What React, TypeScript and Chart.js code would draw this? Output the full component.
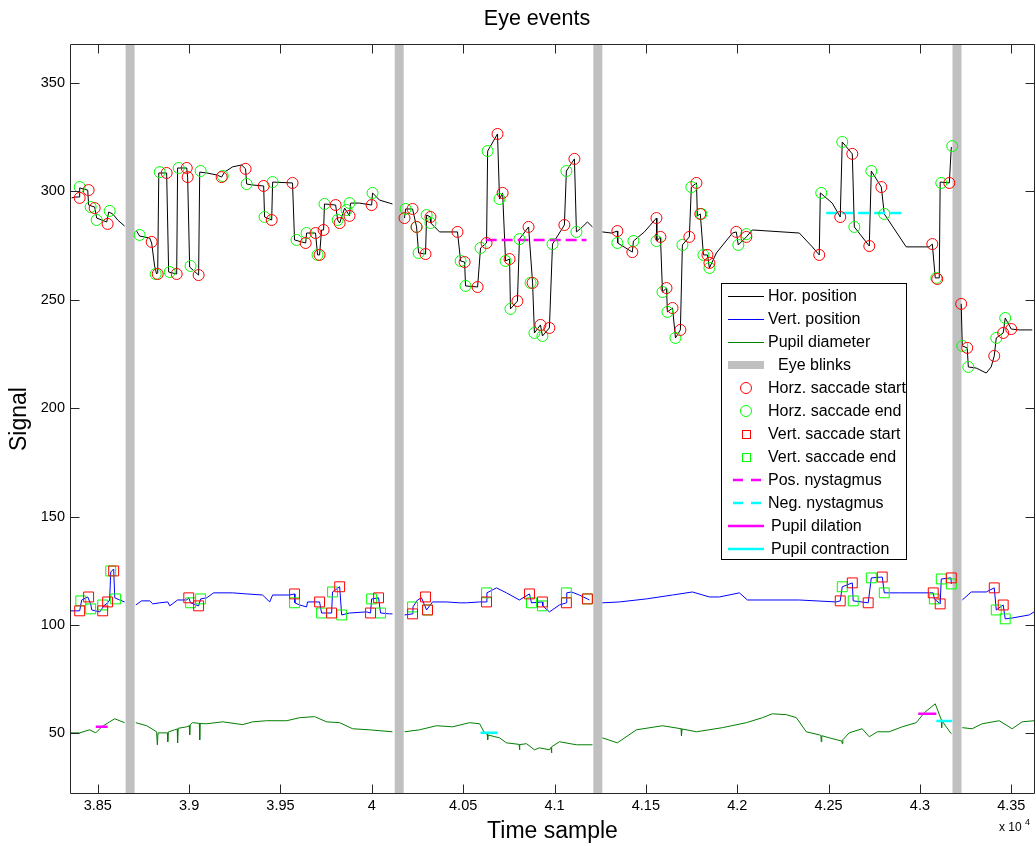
import React, { useEffect, useRef } from "react";
import { Chart, registerables } from "chart.js";
Chart.register(...registerables);

type P = [number, number];

const FONT = '"Liberation Sans", Arial, Helvetica, sans-serif';

// ---- axes ----
const xMin = 38348;
const xMax = 43630;
const yMin = 22;
const yMax = 368;
const xTicks = [38500, 39000, 39500, 40000, 40500, 41000, 41500, 42000, 42500, 43000, 43500];
const yTicks = [50, 100, 150, 200, 250, 300, 350];

// ---- eye blinks (centre sample) ----
const blinkCenters = [38677, 40150, 41237, 43203];

// ---- horizontal position ----
const horSeg1: P[] = [[38357,297.0],[38374,297.4],[38398,297.4],[38401,301.6],[38445,300.6],[38450,293.7],[38483,292.8],[38494,287.7],[38549,285.9],[38560,290.5],[38582,289.6],[38609,286.8],[38647,284.0]];
const horSeg2: P[] = [[38713,281.7],[38729,279.4],[38784,278.5],[38795,276.2],[38811,265.6],[38822,261.9],[38828,262.4],[38834,308.5],[38877,308.5],[38888,262.8],[38932,261.9],[38937,310.8],[38987,310.8],[38992,306.6],[39003,265.1],[39052,261.4],[39058,308.9],[39096,308.5],[39151,307.6],[39178,306.6],[39194,308.9],[39238,311.3],[39287,312.2],[39309,310.4],[39315,303.4],[39342,303.0],[39408,302.5],[39413,288.2],[39452,286.8],[39457,304.3],[39566,303.9],[39577,277.6],[39638,276.2],[39643,280.8],[39692,280.8],[39703,270.7],[39714,270.7],[39725,282.2],[39736,282.2],[39741,294.2],[39802,293.7],[39813,286.8],[39824,285.4],[39851,292.3],[39878,288.7],[39884,294.6],[39933,294.6],[39999,293.7],[40004,299.3],[40042,296.0],[40097,294.6],[40113,294.2]];
const horSeg3: P[] = [[40179,287.7],[40185,291.9],[40223,291.9],[40245,283.6],[40256,271.6],[40294,271.1],[40300,289.1],[40321,288.2],[40323,285.4],[40371,281.3],[40469,281.3],[40486,267.9],[40508,267.4],[40513,256.4],[40579,255.9],[40595,273.9],[40628,276.2],[40634,318.6],[40688,326.5],[40699,296.5],[40716,299.3],[40732,267.9],[40754,268.8],[40759,245.8],[40797,249.4],[40808,278.0],[40858,283.6],[40880,257.8],[40890,234.7],[40923,238.4],[40934,233.3],[40972,237.0],[40989,275.7],[41054,284.5],[41065,309.4],[41109,315.0],[41120,281.3],[41153,283.6],[41180,285.9],[41208,283.6]];
const horSeg4: P[] = [[41262,281.3],[41312,280.8],[41344,281.7],[41346,276.2],[41426,272.0],[41432,277.1],[41492,281.3],[41558,287.7],[41560,277.1],[41580,279.0],[41591,253.6],[41613,255.4],[41618,244.4],[41646,246.2],[41662,232.4],[41689,236.1],[41700,275.3],[41738,279.0],[41749,302.0],[41777,303.9],[41782,288.7],[41798,289.6],[41815,270.7],[41837,270.7],[41848,264.7],[41886,271.6],[41974,280.8],[41995,281.3],[42006,275.3],[42050,279.0],[42083,282.2],[42340,280.8],[42411,274.4],[42449,270.7],[42455,299.3],[42520,294.6],[42564,288.2],[42575,322.8],[42630,317.3],[42641,283.6],[42723,274.8],[42734,309.4],[42789,302.0],[42805,289.6],[42925,274.4],[43051,274.4],[43068,275.7],[43084,260.1],[43106,260.1],[43111,304.3],[43161,303.9],[43172,320.5]];
const horSeg5: P[] = [[43226,248.1],[43232,228.7],[43259,227.8],[43265,219.0],[43308,218.5],[43363,216.2],[43390,219.0],[43407,224.1],[43418,232.4],[43456,234.7],[43467,241.6],[43500,236.5],[43543,236.1],[43615,236.1]];

// ---- vertical position ----
const verSeg1: P[] = [[38352,106.5],[38401,106.5],[38412,111.5],[38445,112.9],[38461,109.7],[38467,106.9],[38511,106.0],[38533,108.8],[38554,110.2],[38565,111.5],[38571,124.4],[38587,125.8],[38593,112.5],[38620,111.5],[38647,110.6]];
const verSeg2: P[] = [[38708,109.2],[38740,111.1],[38784,111.1],[38801,109.7],[38839,110.2],[38883,110.6],[38894,108.8],[38937,111.5],[38987,111.5],[38998,112.5],[39008,110.2],[39052,108.8],[39063,112.0],[39096,112.5],[39134,114.8],[39238,114.8],[39315,114.3],[39402,113.8],[39441,110.6],[39457,113.8],[39550,113.8],[39577,114.3],[39579,110.2],[39605,109.2],[39643,108.3],[39648,110.6],[39714,110.6],[39725,105.5],[39780,105.5],[39785,115.2],[39824,117.6],[39835,104.6],[39878,105.5],[39971,106.0],[39993,105.5],[39999,112.0],[40037,112.5],[40048,105.5],[40097,105.1],[40113,105.1]];
const verSeg3: P[] = [[40179,104.6],[40223,105.1],[40225,108.3],[40250,111.5],[40272,112.5],[40300,106.9],[40332,110.6],[40409,110.6],[40480,110.2],[40518,110.2],[40590,110.6],[40628,110.6],[40630,114.8],[40682,117.1],[40737,114.8],[40808,111.5],[40863,114.3],[40874,110.2],[40934,110.6],[40936,108.8],[40972,106.0],[41027,109.2],[41065,110.2],[41067,114.8],[41093,115.2],[41136,113.8],[41180,112.0],[41191,111.5]];
const verSeg4: P[] = [[41262,110.2],[41355,110.6],[41503,112.0],[41646,113.8],[41755,115.2],[41848,112.9],[41903,112.9],[42012,114.8],[42056,111.5],[42340,111.5],[42542,110.6],[42564,111.1],[42575,117.6],[42630,119.4],[42635,111.1],[42717,110.2],[42734,121.7],[42794,122.1],[42805,114.8],[42887,114.8],[43051,114.8],[43073,114.8],[43079,112.0],[43111,109.7],[43117,121.2],[43170,121.7],[43172,118.9]];
const verSeg5: P[] = [[43232,111.5],[43281,115.2],[43363,115.2],[43407,117.1],[43418,106.9],[43456,109.2],[43467,102.8],[43505,103.2],[43598,104.6],[43625,106.0]];

// ---- pupil diameter ----
const pupSeg1: P[] = [[38352,50.2],[38401,50.2],[38456,51.6],[38489,50.2],[38522,53.0],[38565,55.3],[38593,56.7],[38647,54.9]];
const pupSeg2: P[] = [[38708,54.9],[38768,53.5],[38822,50.7],[38826,44.7],[38830,50.2],[38850,50.2],[38881,50.2],[38883,46.1],[38886,50.6],[38921,51.6],[38935,52.0],[38937,45.6],[38940,52.3],[38987,53.0],[39001,53.5],[39003,49.3],[39006,54.0],[39019,54.9],[39056,54.6],[39058,47.0],[39060,54.5],[39096,54.4],[39184,55.3],[39293,54.0],[39348,55.3],[39424,55.8],[39534,55.8],[39605,57.2],[39687,57.7],[39752,55.3],[39824,54.9],[39895,52.1],[39988,51.6],[40113,50.7]];
const pupSeg3: P[] = [[40179,50.7],[40261,51.6],[40354,53.5],[40442,53.0],[40535,54.9],[40590,54.4],[40617,50.2],[40632,49.5],[40634,47.0],[40637,49.2],[40699,47.9],[40737,45.6],[40806,44.9],[40808,42.4],[40811,44.8],[40847,45.2],[40890,42.4],[40918,43.3],[40972,42.4],[40981,43.5],[40983,41.0],[40986,43.8],[41027,46.1],[41120,44.7],[41208,44.7]];
const pupSeg4: P[] = [[41262,47.9],[41344,45.6],[41448,51.6],[41591,53.5],[41693,52.1],[41695,48.8],[41698,52.0],[41777,50.7],[41919,52.6],[42050,54.9],[42138,57.2],[42192,59.0],[42269,58.6],[42324,57.2],[42378,50.7],[42449,49.3],[42458,49.0],[42460,46.1],[42463,48.9],[42504,47.9],[42569,46.5],[42573,46.3],[42575,45.2],[42578,47.0],[42613,50.2],[42684,52.1],[42723,48.4],[42767,50.7],[42832,50.7],[42903,53.0],[42980,54.9],[43024,59.5],[43084,63.6],[43117,56.3],[43119,52.6],[43121,55.8],[43144,53.0],[43172,49.8]];
const pupSeg5: P[] = [[43232,52.6],[43286,52.1],[43341,54.4],[43434,55.8],[43505,52.1],[43560,55.3],[43625,55.8]];

// ---- saccade markers ----
const horSacStart: P[] = [[38401,297.0],[38450,300.6],[38483,292.3],[38554,285.0],[38795,276.7],[38828,261.9],[38877,308.5],[38932,261.9],[38987,310.8],[38992,306.6],[39052,261.4],[39178,306.6],[39309,310.4],[39408,302.5],[39452,286.8],[39566,303.9],[39638,276.2],[39692,280.8],[39714,270.7],[39736,282.2],[39802,293.7],[39824,285.4],[39878,288.7],[39999,293.7],[40223,291.9],[40179,287.7],[40245,283.6],[40294,271.1],[40321,288.2],[40469,281.3],[40508,267.4],[40579,255.9],[40628,276.2],[40688,326.5],[40716,299.3],[40754,268.8],[40797,249.4],[40858,283.6],[40880,257.8],[40923,238.4],[40972,237.0],[41054,284.5],[41109,315.0],[41344,281.7],[41426,272.0],[41558,287.7],[41580,279.0],[41613,255.4],[41646,246.2],[41689,236.1],[41738,279.0],[41777,303.9],[41798,289.6],[41837,270.7],[41848,267.0],[41995,281.3],[42050,279.0],[42449,270.7],[42564,288.2],[42630,317.3],[42723,274.8],[42789,302.0],[43068,275.7],[43095,259.6],[43161,303.9],[43226,248.1],[43259,227.8],[43407,224.1],[43456,234.7],[43500,236.5]];
const horSacEnd: P[] = [[38401,302.0],[38461,292.8],[38494,286.8],[38565,291.0],[38729,279.9],[38817,261.9],[38839,308.9],[38894,262.8],[38943,310.8],[39008,265.6],[39063,309.4],[39184,307.1],[39315,303.4],[39413,288.2],[39457,304.3],[39588,277.6],[39643,280.8],[39703,270.7],[39741,294.2],[39813,286.8],[39878,294.6],[39862,291.4],[40004,299.3],[40185,291.9],[40245,283.6],[40256,271.6],[40300,289.1],[40321,285.4],[40486,267.9],[40513,256.4],[40595,273.9],[40634,318.6],[40699,296.5],[40732,267.9],[40759,245.8],[40808,278.0],[40869,257.8],[40890,234.7],[40934,233.3],[40989,275.7],[41065,309.4],[41120,281.3],[41344,276.2],[41432,277.1],[41558,277.1],[41591,253.6],[41618,244.4],[41662,232.4],[41700,275.3],[41749,302.0],[41804,289.6],[41815,270.7],[41848,264.7],[42006,275.3],[42050,280.3],[42460,299.3],[42575,322.8],[42641,283.6],[42734,309.4],[42805,289.6],[43090,260.1],[43117,303.9],[43177,320.9],[43232,228.7],[43265,219.0],[43418,232.4],[43467,241.6]];
const verSacStart: P[] = [[38401,106.5],[38450,112.9],[38527,106.5],[38554,110.6],[38587,124.9],[38998,112.5],[39052,108.8],[39577,114.3],[39714,110.6],[39780,105.5],[39824,117.6],[39993,105.5],[40037,112.5],[40223,105.1],[40294,112.9],[40305,106.9],[40628,110.6],[40863,114.3],[40934,110.6],[41065,110.2],[41180,112.0],[42564,111.1],[42630,119.4],[42717,110.2],[42794,122.1],[43073,114.8],[43111,109.7],[43172,121.7],[43407,117.1],[43456,109.2]];
const verSacEnd: P[] = [[38407,111.1],[38461,107.4],[38527,109.2],[38571,124.9],[38598,112.0],[39008,110.2],[39063,112.0],[39577,110.2],[39725,105.5],[39785,115.2],[39835,104.6],[39999,112.0],[40048,105.5],[40223,108.3],[40305,106.9],[40628,114.8],[40874,110.2],[40934,108.8],[41065,114.8],[41180,112.0],[42575,117.6],[42635,111.1],[42734,121.7],[42805,114.8],[43079,112.0],[43117,121.2],[43172,118.9],[43418,106.9],[43467,102.8]];

// ---- nystagmus & pupil events ----
const posNystagmus: P[] = [[40623,277.6],[41175,277.6]];
const negNystagmus: P[] = [[42487,290.0],[42925,290.0]];
const pupilDilation: P[][] = [[[38489,53.0],[38554,53.0]],[[42991,59.0],[43090,59.0]]];
const pupilContraction: P[][] = [[[40595,50.2],[40688,50.2]],[[43090,55.7],[43177,55.7]]];

type Pt = { x: number; y: number | null };
const pts = (s: P[]): Pt[] => s.map(([x, y]) => ({ x, y }));
const joinSegs = (segs: P[][]): Pt[] => {
  const out: Pt[] = [];
  segs.forEach((s, i) => {
    if (i > 0) {
      const prev = segs[i - 1];
      out.push({ x: (prev[prev.length - 1][0] + s[0][0]) / 2, y: null });
    }
    out.push(...pts(s));
  });
  return out;
};

const legendItems = [
  { label: "Hor. position", kind: "line", color: "#000000" },
  { label: "Vert. position", kind: "line", color: "#0000ff" },
  { label: "Pupil diameter", kind: "line", color: "#007f00" },
  { label: "Eye blinks", kind: "bar", color: "#c0c0c0" },
  { label: "Horz. saccade start", kind: "circle", color: "#ff0000" },
  { label: "Horz. saccade end", kind: "circle", color: "#00ff00" },
  { label: "Vert. saccade start", kind: "square", color: "#ff0000" },
  { label: "Vert. saccade end", kind: "square", color: "#00ff00" },
  { label: "Pos. nystagmus", kind: "dash", color: "#ff00ff" },
  { label: "Neg. nystagmus", kind: "dash", color: "#00ffff" },
  { label: "Pupil dilation", kind: "thick", color: "#ff00ff" },
  { label: "Pupil contraction", kind: "thick", color: "#00ffff" },
];

// plot box edges in the figure (MATLAB axes position)
const AX_RIGHT = 1035;

const decoPlugin = {
  id: "deco",
  afterLayout(chart: any) {
    const a = chart.chartArea;
    a.right = AX_RIGHT;
    a.width = a.right - a.left;
    const x = chart.scales.x;
    x.right = AX_RIGHT;
    x.width = x.right - x.left;
    x.configure();
  },
  afterDatasetsDraw(chart: any) {
    const { ctx, chartArea: a, scales } = chart;
    const L = Math.round(a.left) + 0.5;
    const R = Math.round(a.right) - 0.5;
    const T = Math.round(a.top) + 0.5;
    const B = Math.round(a.bottom) - 0.5;
    ctx.save();
    ctx.strokeStyle = "#262626";
    ctx.lineWidth = 1;
    ctx.beginPath();
    ctx.rect(L, T, R - L, B - T);
    const tl = 9;
    xTicks.forEach((v) => {
      const x = Math.round(scales.x.getPixelForValue(v)) + 0.5;
      ctx.moveTo(x, B); ctx.lineTo(x, B - tl);
      ctx.moveTo(x, T); ctx.lineTo(x, T + tl);
    });
    yTicks.forEach((v) => {
      const y = Math.round(scales.y.getPixelForValue(v)) + 0.5;
      ctx.moveTo(L, y); ctx.lineTo(L + tl, y);
      ctx.moveTo(R, y); ctx.lineTo(R - tl, y);
    });
    ctx.stroke();
    ctx.restore();
  },
  afterDraw(chart: any) {
    const { ctx } = chart;
    ctx.save();
    // title
    ctx.fillStyle = "#000";
    ctx.font = `21.5px ${FONT}`;
    ctx.textAlign = "center";
    ctx.textBaseline = "middle";
    ctx.fillText("Eye events", 537, 19);
    // x 10^4
    ctx.textAlign = "left";
    ctx.textBaseline = "alphabetic";
    ctx.font = `12px ${FONT}`;
    ctx.fillText("x 10", 999, 831);
    ctx.font = `9px ${FONT}`;
    ctx.fillText("4", 1025, 825);
    // legend
    const bx = 721.5, by = 283.5, bw = 185, bh = 276;
    ctx.fillStyle = "#fff";
    ctx.fillRect(bx, by, bw, bh);
    ctx.strokeStyle = "#000";
    ctx.lineWidth = 1;
    ctx.strokeRect(bx, by, bw, bh);
    legendItems.forEach((it, i) => {
      const y = 296 + i * 23;
      let tx = 768;
      ctx.save();
      ctx.strokeStyle = it.color;
      ctx.fillStyle = it.color;
      if (it.kind === "line") {
        ctx.lineWidth = 1.2;
        ctx.beginPath(); ctx.moveTo(728, y + 0.5); ctx.lineTo(764, y + 0.5); ctx.stroke();
      } else if (it.kind === "bar") {
        ctx.fillRect(728, y - 4, 36, 8);
        tx = 778;
      } else if (it.kind === "circle") {
        ctx.lineWidth = 1;
        ctx.beginPath(); ctx.arc(746, y, 5.5, 0, Math.PI * 2); ctx.stroke();
      } else if (it.kind === "square") {
        ctx.lineWidth = 1;
        ctx.strokeRect(742.5, y - 3.5, 8, 8);
      } else if (it.kind === "dash") {
        ctx.lineWidth = 2.5;
        ctx.beginPath();
        ctx.moveTo(733, y); ctx.lineTo(743, y);
        ctx.moveTo(751, y); ctx.lineTo(761, y);
        ctx.stroke();
      } else if (it.kind === "thick") {
        ctx.lineWidth = 2.5;
        ctx.beginPath(); ctx.moveTo(728, y); ctx.lineTo(764, y); ctx.stroke();
        tx = 771;
      }
      ctx.restore();
      ctx.fillStyle = "#000";
      ctx.font = `16px ${FONT}`;
      ctx.textAlign = "left";
      ctx.textBaseline = "middle";
      ctx.fillText(it.label, tx, y + 1);
    });
    ctx.restore();
  },
};

export default function App() {
  const ref = useRef<HTMLCanvasElement | null>(null);
  useEffect(() => {
    if (!ref.current) return;
    const lineDs = (data: Pt[], color: string, order: number, extra: any = {}) => ({
      type: "scatter",
      data,
      showLine: true,
      spanGaps: false,
      borderColor: color,
      backgroundColor: color,
      borderWidth: 1,
      pointRadius: 0,
      pointHoverRadius: 0,
      order,
      ...extra,
    });
    const markerDs = (data: P[], color: string, style: string, radius: number) => ({
      type: "scatter",
      data: pts(data),
      showLine: false,
      pointStyle: style,
      pointRadius: radius,
      pointHoverRadius: radius,
      pointBorderWidth: 1,
      borderColor: color,
      pointBorderColor: color,
      backgroundColor: "rgba(0,0,0,0)",
      pointBackgroundColor: "rgba(0,0,0,0)",
      order: 0,
    });
    const datasets: any[] = [
      markerDs(horSacStart, "#ff0000", "circle", 5.5),
      markerDs(horSacEnd, "#00ff00", "circle", 5.5),
      markerDs(verSacStart, "#ff0000", "rect", 7),
      markerDs(verSacEnd, "#00ff00", "rect", 7),
      lineDs(pts(posNystagmus), "#ff00ff", 1, { borderWidth: 2.5, borderDash: [11, 5] }),
      lineDs(pts(negNystagmus), "#00ffff", 1, { borderWidth: 2.5, borderDash: [11, 5] }),
      lineDs(joinSegs(pupilDilation), "#ff00ff", 1, { borderWidth: 2.5 }),
      lineDs(joinSegs(pupilContraction), "#00ffff", 1, { borderWidth: 2.5 }),
      lineDs(joinSegs([horSeg1, horSeg2, horSeg3, horSeg4, horSeg5]), "#000000", 2),
      lineDs(joinSegs([verSeg1, verSeg2, verSeg3, verSeg4, verSeg5]), "#0000ff", 2),
      lineDs(joinSegs([pupSeg1, pupSeg2, pupSeg3, pupSeg4, pupSeg5]), "#007f00", 2),
      ...blinkCenters.map((c) =>
        lineDs(pts([[c, yMin], [c, yMax]]), "#c0c0c0", 3, { borderWidth: 9, borderCapStyle: "butt" })
      ),
    ];
    const chart = new Chart(ref.current, {
      type: "scatter",
      data: { datasets },
      options: {
        animation: false,
        responsive: false,
        maintainAspectRatio: false,
        devicePixelRatio: 1,
        events: [],
        layout: { padding: { top: 44, right: 1, left: 0, bottom: 0 } },
        plugins: {
          legend: { display: false },
          tooltip: { enabled: false },
          title: { display: false },
        },
        scales: {
          x: {
            type: "linear",
            min: xMin,
            max: xMax,
            grid: { display: false, drawTicks: false },
            border: { display: false },
            afterBuildTicks: (s: any) => { s.ticks = xTicks.map((v) => ({ value: v })); },
            afterFit: (s: any) => { s.height = 52; s.paddingLeft = 0; s.paddingRight = 0; },
            ticks: {
              color: "#000",
              font: { family: FONT, size: 14.5 },
              padding: 3,
              maxRotation: 0,
              autoSkip: false,
              callback: (v: any) => String(parseFloat((Number(v) / 10000).toFixed(2))),
            },
            title: {
              display: true,
              text: "Time sample",
              color: "#000",
              font: { family: FONT, size: 23 },
              padding: { top: 0, bottom: 1 },
            },
          },
          y: {
            type: "linear",
            min: yMin,
            max: yMax,
            grid: { display: false, drawTicks: false },
            border: { display: false },
            afterBuildTicks: (s: any) => { s.ticks = yTicks.map((v) => ({ value: v })); },
            afterFit: (s: any) => { s.width = 70; s.paddingTop = 0; s.paddingBottom = 0; },
            ticks: {
              color: "#000",
              font: { family: FONT, size: 14.5 },
              padding: 5,
              autoSkip: false,
              callback: (v: any) => String(v),
            },
            title: {
              display: true,
              text: "Signal",
              color: "#000",
              font: { family: FONT, size: 23 },
              padding: { top: 6, bottom: 0 },
            },
          },
        },
      } as any,
      plugins: [decoPlugin],
    } as any);
    return () => chart.destroy();
  }, []);
  return (
    <div style={{ position: "fixed", left: 0, top: 0, width: 1036, height: 846, background: "#fff" }}>
      <canvas ref={ref} width={1036} height={846} style={{ display: "block", width: 1036, height: 846 }} />
    </div>
  );
}
